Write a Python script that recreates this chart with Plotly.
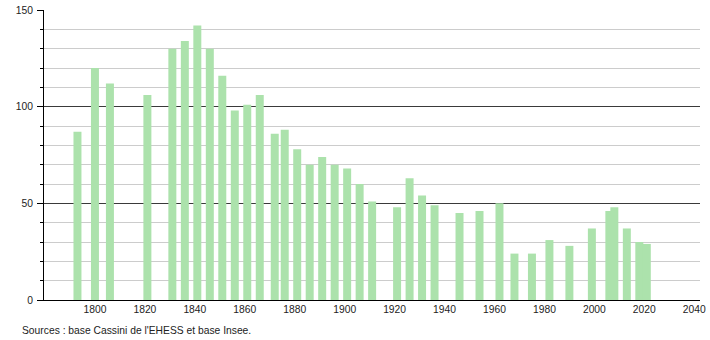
import plotly.graph_objects as go

years = [1793, 1800, 1806, 1821, 1831, 1836, 1841, 1846, 1851, 1856, 1861, 1866,
         1872, 1876, 1881, 1886, 1891, 1896, 1901, 1906, 1911, 1921, 1926, 1931,
         1936, 1946, 1954, 1962, 1968, 1975, 1982, 1990, 1999, 2006, 2008, 2013,
         2018, 2021]
population = [87, 120, 112, 106, 130, 134, 142, 130, 116, 98, 101, 106,
              86, 88, 78, 70, 74, 70, 68, 60, 51, 48, 63, 54,
              49, 45, 46, 50, 24, 24, 31, 28, 37, 46, 48, 37,
              30, 29]
x_ticks = [1800, 1820, 1840, 1860, 1880, 1900, 1920, 1940, 1960, 1980, 2000, 2020, 2040]
y_ticks = [0, 50, 100, 150]
source_text = "Sources : base Cassini de l'EHESS et base Insee."

fig = go.Figure()
fig.add_trace(go.Bar(
    x=years, y=population, width=[3.2] * len(years),
    marker=dict(color="rgb(172,226,172)", line=dict(width=0)),
    hoverinfo="x+y",
))

font = dict(family="Liberation Sans, Arial, sans-serif", size=10.3, color="#222")

fig.update_layout(
    width=710, height=340,
    margin=dict(l=44, r=10, t=10, b=40),
    paper_bgcolor="white", plot_bgcolor="white",
    showlegend=False,
    font=font,
    xaxis=dict(
        range=[1779.6, 2042.3],
        tickvals=x_ticks, ticktext=[str(v) for v in x_ticks],
        showgrid=False, zeroline=False, automargin=False,
        showline=True, linecolor="black", linewidth=1,
        ticks="", tickfont=font,
    ),
    yaxis=dict(
        range=[0, 150],
        tickvals=y_ticks, automargin=False,
        showgrid=True, gridcolor="#3a3a3a", gridwidth=1,
        zeroline=False,
        showline=True, linecolor="black", linewidth=1,
        ticks="outside", ticklen=6, tickcolor="black", tickwidth=1,
        ticklabelstandoff=2,
        tickfont=font,
        minor=dict(dtick=10, showgrid=True, gridcolor="#cccccc", gridwidth=1,
                   ticks="outside", ticklen=3, tickcolor="black"),
    ),
    annotations=[dict(
        text=source_text, xref="paper", yref="paper",
        x=-24 / 656, y=-30 / 290, xanchor="left", yanchor="middle",
        showarrow=False, font=font,
    )],
)

fig.write_html("out.html")
